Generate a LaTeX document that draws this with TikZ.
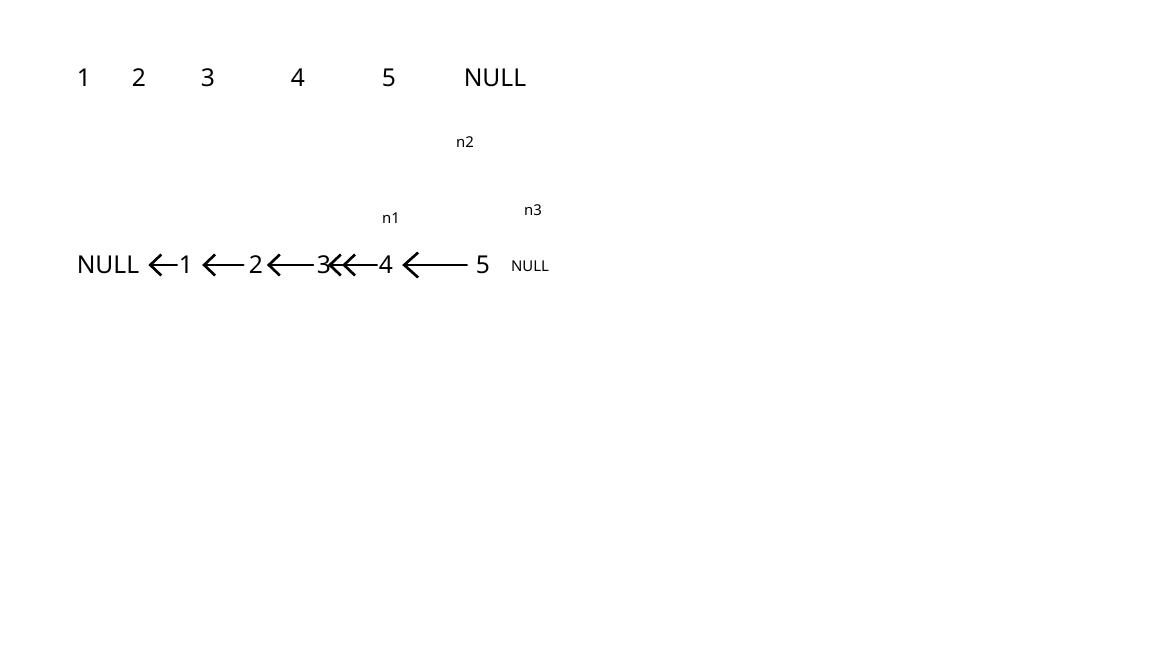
\documentclass[tikz,border=0pt]{standalone}
\usepackage{fontspec}
\setmainfont{Noto Sans}
\usetikzlibrary{positioning,arrows.meta}

\begin{document}
\begin{tikzpicture}[x=0.02cm, y=-0.02cm,
      every node/.style={inner sep=1pt},
      val/.style={font=\fontsize{14}{16}\selectfont},
      tag/.style={font=\fontsize{8.5}{10}\selectfont},
      link/.style={-{Straight Barb[length=2.2mm, width=4.2mm]}, line width=1.5pt,
                   line cap=round, shorten >=1pt, shorten <=1pt},
  ]
    \useasboundingbox (0,0) rectangle (1152,648);

    %% --- original list, top row ---
    \node[val] (t1) at (84, 78)   {1};
    \node[val] (t2) at (139, 78)  {2};
    \node[val] (t3) at (208, 78)  {3};
    \node[val] (t4) at (298, 78)  {4};
    \node[val] (t5) at (389, 78)  {5};
    \node[val] (tnull) at (495, 78) {NULL};

    %% --- pointer labels ---
    \node[tag] (n2) at (465, 142) {n2};
    \node[tag] (n1) at (391, 218) {n1};
    \node[tag] (n3) at (533, 210) {n3};

    %% --- reversed list, bottom row ---
    \node[val] (bnull) at (108, 265) {NULL};
    \node[val] (b1) at (186, 265) {1};
    \node[val] (b2) at (256, 265) {2};
    \node[val] (b3) at (324, 265) {3};
    \node[val] (b4) at (386, 265) {4};
    \node[val] (b5) at (483, 265) {5};
    \node[tag] (enull) at (530, 266) {NULL};

    \draw[link, shorten >=4pt, shorten <=0pt] (b1) -- (bnull);
    \draw[link, shorten >=4pt, shorten <=2pt] (b2) -- (b1);
    \draw[link] (b3) -- (b2);
    \draw[-{Straight Barb[length=2.2mm, width=4.2mm]Straight Barb[length=2.2mm, width=4.2mm]},
          line width=1.5pt, line cap=round, shorten >=-3pt] (b4) -- (b3);
    \draw[link, shorten <=4pt, shorten >=4pt,
          -{Straight Barb[length=2.8mm, width=5mm]}] (b5) -- (b4);
  \end{tikzpicture}
\end{document}
